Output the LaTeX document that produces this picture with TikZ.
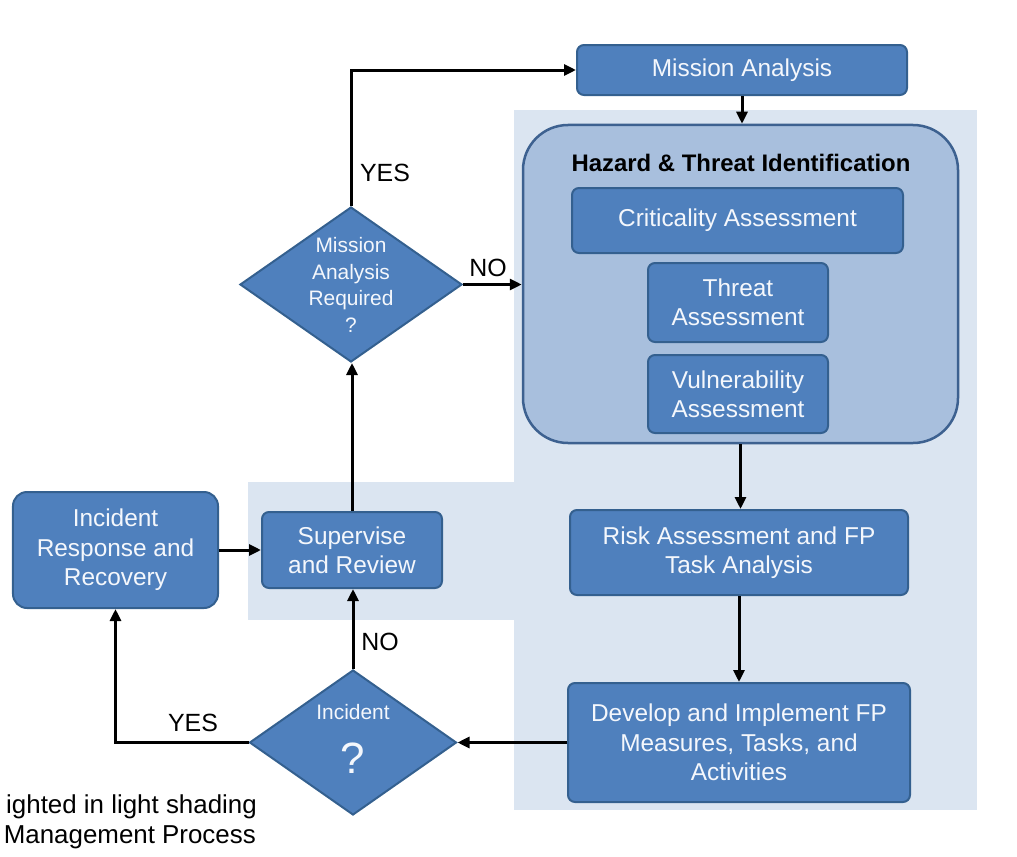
\documentclass[tikz,border=0pt]{standalone}
\usepackage{fontspec}
\setmainfont{Liberation Sans}
\usetikzlibrary{arrows.meta,shapes.geometric}
\definecolor{boxfill}{HTML}{4F80BD}
\definecolor{boxline}{HTML}{34608F}
\definecolor{hazfill}{HTML}{A8BFDD}
\definecolor{hazline}{HTML}{3D6190}
\definecolor{lightbg}{HTML}{DBE5F1}
\definecolor{boxtext}{HTML}{F4F7FC}
\begin{document}
\begin{tikzpicture}[x=1bp,y=-1bp,
  box/.style={draw=boxline, line width=2bp, fill=boxfill, rounded corners=7bp,
    text=boxtext, font=\fontsize{24.5}{29.5}\selectfont, align=center, inner sep=0pt},
  hazbox/.style={draw=hazline, line width=2.5bp, fill=hazfill, rounded corners=45bp, inner sep=0pt},
  decision/.style={diamond, draw=boxline, line width=2bp, fill=boxfill, inner sep=0pt},
  dtext/.style={text=boxtext, font=\fontsize{21}{26.5}\selectfont, align=center, inner sep=0pt},
  qmark/.style={text=boxtext, font=\fontsize{44}{44}\selectfont, inner sep=0pt},
  lbl/.style={text=black, font=\fontsize{25}{30}\selectfont, inner sep=0pt},
  captxt/.style={text=black, font=\fontsize{26}{30}\selectfont, inner sep=0pt, anchor=east},
  arr/.style={draw=black, line width=3bp, -{Triangle[length=12bp,width=11bp]}}
]
\useasboundingbox (0,0) rectangle (1017,857);
% light shading regions
\fill[lightbg] (514,110) rectangle (977,810);
\fill[lightbg] (248,482) rectangle (514,620);

% right column
\node[box, minimum width=330bp, minimum height=50bp] (ma) at (742,70) {Mission Analysis};
\node[hazbox, minimum width=435bp, minimum height=318bp] (haz) at (740.5,284) {};
\node[font=\bfseries\fontsize{24}{28}\selectfont, text=black, inner sep=0pt] (haztitle) at (741,163) {Hazard \& Threat Identification};
\node[box, minimum width=331bp, minimum height=65bp] (crit) at (737.5,220.5) {Criticality Assessment};
\node[box, minimum width=180bp, minimum height=79bp] (threat) at (738,302.5) {Threat\\Assessment};
\node[box, minimum width=180bp, minimum height=78bp] (vuln) at (738,394) {Vulnerability\\Assessment};
\node[box, minimum width=338bp, minimum height=85bp] (risk) at (739,552.5) {Risk Assessment and FP\\Task Analysis};
\node[box, minimum width=342bp, minimum height=119bp] (dev) at (739,742.5) {Develop and Implement FP\\Measures, Tasks, and\\Activities};

% left part
\node[box, rounded corners=14bp, minimum width=205bp, minimum height=116bp] (irr) at (115.5,550) {Incident\\Response and\\Recovery};
\node[box, minimum width=180bp, minimum height=76bp] (sup) at (352,550) {Supervise\\and Review};

\node[decision, minimum width=222bp, minimum height=155bp] (q1) at (351,284.5) {};
\node[dtext] (q1t) at (351,285) {Mission\\Analysis\\Required\\?};
\node[decision, minimum width=207bp, minimum height=145bp] (q2) at (353,742.5) {};
\node[dtext] (q2t) at (353,712) {Incident};
\node[qmark] (q2q) at (353,758) {?};

% connectors
\draw[arr] (ma.south) -- (ma.south |- haz.north);
\draw[arr] (haz.south) -- (haz.south |- risk.north);
\draw[arr] (risk.south) -- (risk.south |- dev.north);
\draw[arr] (dev.west) -- (q2.east);
\draw[arr] (q2.west) -| (irr.south);
\draw[arr] (q2.north) -- (q2.north |- sup.south);
\draw[arr] (irr.east) -- (sup.west);
\draw[arr] (sup.north) -- (sup.north |- q1.south);
\draw[arr] (q1.north) |- (ma.west);
\draw[arr] (q1.east) -- (q1.east -| haz.west);

% labels
\node[lbl] (yes1) at (385,173) {YES};
\node[lbl] (no1) at (488,268) {NO};
\node[lbl] (no2) at (380,642) {NO};
\node[lbl] (yes2) at (193,723) {YES};

% caption fragment
\node[captxt] (cap1) at (257,807) {ighted in light shading};
\node[captxt] (cap2) at (256,837) {Management Process};
\end{tikzpicture}
\end{document}
